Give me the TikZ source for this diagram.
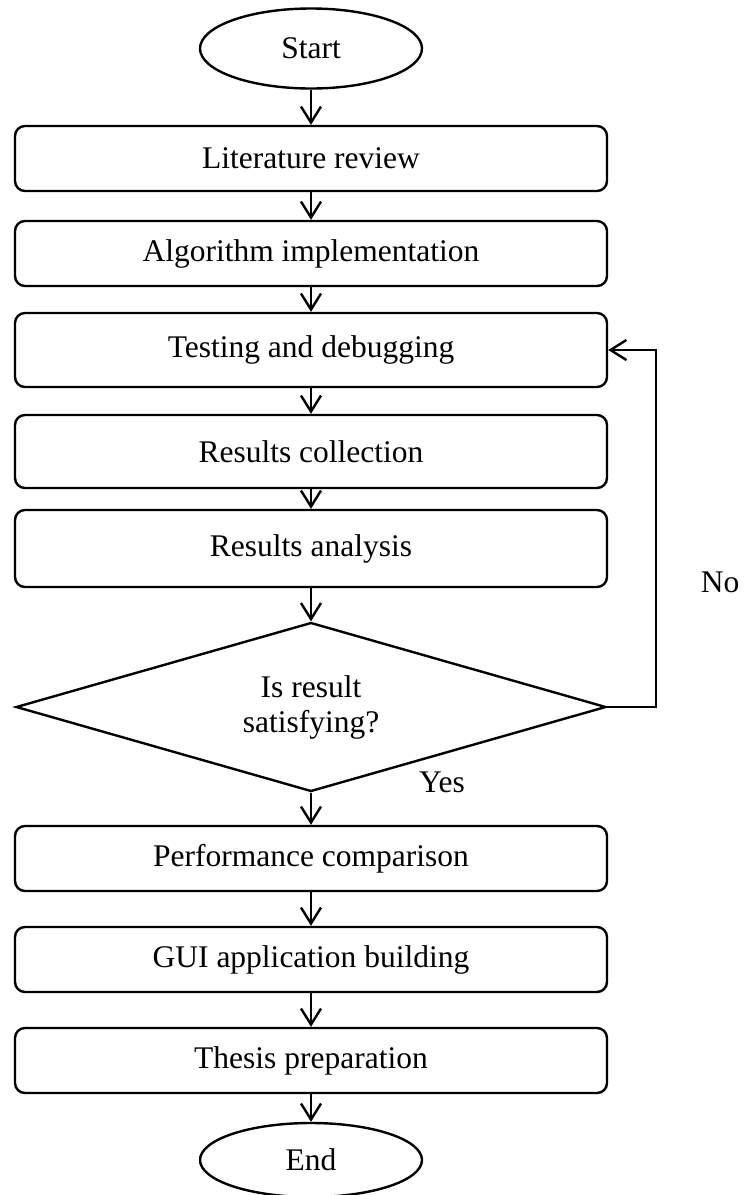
\documentclass[tikz,border=0pt]{standalone}
\usepackage{fontspec}
\setmainfont{Liberation Serif}
\usepackage{tikz}
\usetikzlibrary{shapes.geometric, arrows.meta}

\begin{document}
\begin{tikzpicture}[
  x=0.5pt, y=-0.5pt,
  font=\fontsize{15.75pt}{17.5pt}\selectfont,
  terminal/.style={ellipse, draw, line width=1.2pt, minimum width=111pt, minimum height=40pt, inner sep=0pt},
  stepbox/.style={rectangle, draw, line width=1.2pt, rounded corners=5pt, minimum width=296pt, minimum height=32.5pt, inner sep=0pt},
  decision/.style={diamond, draw, line width=1.2pt, aspect=3.5, minimum width=295pt, minimum height=84.5pt, inner sep=0pt, align=center},
  arr/.style={line width=1.2pt, -{Straight Barb[length=8pt, width=10pt, line width=1.2pt]}}
]
\useasboundingbox (0,0) rectangle (745,1195);

% main column
\node[terminal] (start) at (311,48.5) {Start};
\node[stepbox] (lit)  at (311,158.5) {Literature review};
\node[stepbox] (algo) at (311,253.5) {Algorithm implementation};
\node[stepbox, minimum height=37pt] (test) at (311,350) {Testing and debugging};
\node[stepbox, minimum height=36.5pt] (coll) at (311,451.5) {Results collection};
\node[stepbox, minimum height=38.5pt] (anal) at (311,548.5) {Results analysis};
\node[decision] (dec) at (311,707) {Is result\\satisfying?};
\node[stepbox] (perf) at (311,858.5) {Performance comparison};
\node[stepbox] (gui)  at (311,959.5) {GUI application building};
\node[stepbox] (thes) at (311,1060.5) {Thesis preparation};
\node[terminal, minimum height=37pt] (end) at (311,1160) {End};

% labels
\node (no)  at (720,582) {No};
\node (yes) at (442,782) {Yes};

% arrows
\draw[arr] (start) -- (lit);
\draw[arr] (lit) -- (algo);
\draw[arr] (algo) -- (test);
\draw[arr] (test) -- (coll);
\draw[arr] (coll) -- (anal);
\draw[arr] (anal) -- (dec);
\draw[arr] (dec) -- (perf);
\draw[arr] (perf) -- (gui);
\draw[arr] (gui) -- (thes);
\draw[arr] (thes) -- (end);
\draw[arr] (dec.east) -- ++(24.5pt,0) |- (test.east);
\end{tikzpicture}
\end{document}
